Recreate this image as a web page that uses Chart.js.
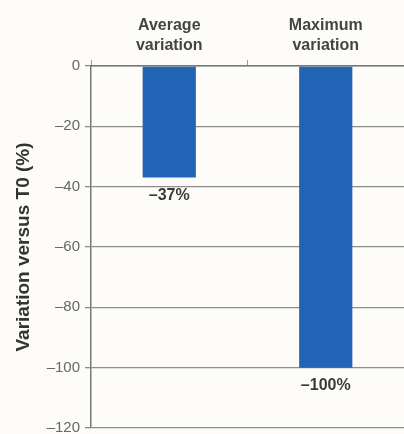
<!DOCTYPE html>
<html>
<head>
<meta charset="utf-8">
<script src="https://cdn.jsdelivr.net/npm/chart.js@4"></script>
<style>
  html, body { margin: 0; padding: 0; background: #fdfcf8; }
  #wrap { width: 404px; height: 434px; }
</style>
</head>
<body>
<div id="wrap"><canvas id="miGrafico"></canvas></div>
<script>
// Datos del gráfico
var categorias = [["Average", "variation"], ["Maximum", "variation"]];
var variacion = [-37, -100];
var etiquetas = ["\u201337%", "\u2013100%"];
var ticksY = [0, -20, -40, -60, -80, -100, -120];

// Etiquetas bajo cada barra
var etiquetasBarras = {
  id: "etiquetasBarras",
  afterDatasetsDraw: function (chart) {
    var ctx = chart.ctx;
    var meta = chart.getDatasetMeta(0);
    ctx.save();
    ctx.font = "bold 16px 'Liberation Sans', Arial, sans-serif";
    ctx.fillStyle = "#3a3a3a";
    ctx.textAlign = "center";
    ctx.textBaseline = "middle";
    meta.data.forEach(function (bar, i) {
      ctx.fillText(etiquetas[i], bar.x, bar.y + 18);
    });
    ctx.restore();
  }
};

var ctx = document.getElementById("miGrafico").getContext("2d");
var miGrafico = new Chart(ctx, {
  type: "bar",
  data: {
    labels: categorias,
    datasets: [{
      data: variacion,
      backgroundColor: "#2163b4",
      barPercentage: 0.68,
      categoryPercentage: 0.5
    }]
  },
  options: {
    responsive: true,
    maintainAspectRatio: false,
    animation: false,
    layout: { padding: { top: 12, right: 0, bottom: 6, left: 0 } },
    plugins: {
      legend: { display: false },
      tooltip: { enabled: false }
    },
    scales: {
      x: {
        position: "top",
        offset: true,
        grid: {
          offset: true,
          drawOnChartArea: false,
          tickLength: 6,
          color: "#999"
        },
        border: { color: "#777", width: 1.5 },
        ticks: {
          color: "#444",
          padding: 4,
          font: { family: "'Liberation Sans', Arial, sans-serif", size: 16, weight: "bold", lineHeight: 1.25 }
        }
      },
      y: {
        min: -120,
        max: 0,
        afterFit: function (scale) {
          scale.width = 91;
          scale.paddingBottom = 0;
        },
        afterBuildTicks: function (scale) {
          scale.ticks = ticksY.map(function (v) { return { value: v }; });
        },
        grid: { color: "#8d8d8d", lineWidth: 1.3, tickLength: 6 },
        border: { color: "#777", width: 1.5 },
        ticks: {
          color: "#666",
          padding: 5,
          font: { family: "'Liberation Sans', Arial, sans-serif", size: 15 },
          callback: function (v) { return v === 0 ? "0" : "\u2013" + Math.abs(v); }
        },
        title: {
          display: true,
          text: "Variation versus T0 (%)",
          color: "#333",
          padding: { top: 12, bottom: 0 },
          font: { family: "'Liberation Sans', Arial, sans-serif", size: 19, weight: "bold" }
        }
      }
    }
  },
  plugins: [etiquetasBarras]
});
</script>
</body>
</html>
